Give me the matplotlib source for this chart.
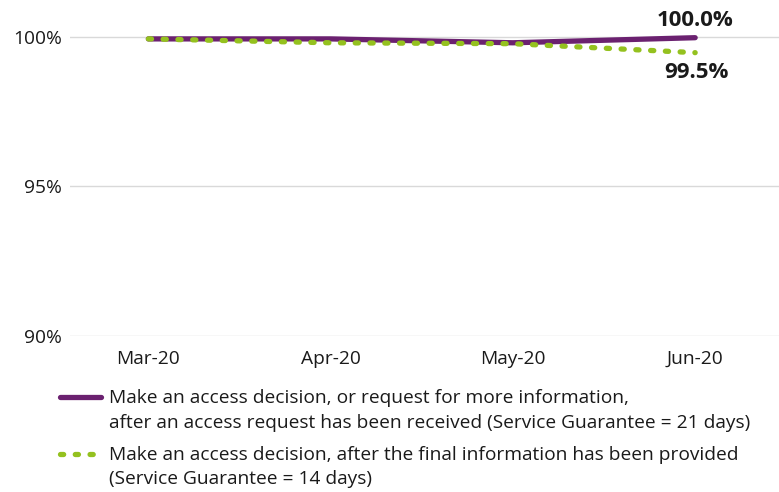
import numpy as np
import matplotlib.pyplot as plt
from matplotlib.legend_handler import HandlerLine2D

plt.rcParams['font.family'] = ['Open Sans', 'DejaVu Sans']

months = ["Mar-20", "Apr-20", "May-20", "Jun-20"]
decision_21 = [99.93, 99.93, 99.8, 99.97]
decision_14 = [99.93, 99.8, 99.77, 99.47]
label_21 = "Make an access decision, or request for more information,\nafter an access request has been received (Service Guarantee = 21 days)"
label_14 = "Make an access decision, after the final information has been provided\n(Service Guarantee = 14 days)"
end_labels = ["100.0%", "99.5%"]

purple = "#6b2170"
green = "#94c11f"


# legend handle sits next to the first line of a two-line label
class TopLine(HandlerLine2D):
    def create_artists(self, legend, orig_handle, xdescent, ydescent, width, height, fontsize, trans):
        shift = 0.7 * fontsize
        return super().create_artists(legend, orig_handle, xdescent, ydescent - 2 * shift,
                                      width, height, fontsize, trans)


fig = plt.figure(figsize=(7.79, 4.92), dpi=100)
ax = fig.add_axes([70/779, 156/492, 709/779, 336/492])

x = np.arange(len(months))
l1, = ax.plot(x, decision_21, color=purple, lw=3.8, solid_capstyle='round', label=label_21, zorder=3)
l2, = ax.plot(x, decision_14, color=green, lw=3.8, linestyle=(0, (0.6, 2.2)), dash_capstyle='round',
              label=label_14, zorder=4)

ax.annotate(end_labels[0], (x[-1], decision_21[-1]), xytext=(0, 5), textcoords='offset points',
            ha='center', va='bottom', fontsize=16, fontweight='bold', color='#1a1a1a')
ax.annotate(end_labels[1], (x[-1], decision_14[-1]), xytext=(1, -7), textcoords='offset points',
            ha='center', va='top', fontsize=16, fontweight='bold', color='#1a1a1a')

ax.set_xlim(-0.43, 3.46)
ax.set_ylim(90, 101.23)
ax.set_xticks(x)
ax.set_xticklabels(months)
ax.set_yticks([90, 95, 100])
ax.set_yticklabels(["90%", "95%", "100%"])
ax.tick_params(axis='both', length=0, labelsize=13.8, colors='#1a1a1a')
ax.tick_params(axis='x', pad=10)
ax.tick_params(axis='y', pad=6)
ax.grid(axis='y', color='#d9d9d9', lw=1)
ax.set_axisbelow(True)
for s in ax.spines.values():
    s.set_visible(False)

leg = fig.legend(loc='upper left', bbox_to_anchor=(43/779, 1 - 372/492), frameon=False, fontsize=13.8,
                 handlelength=2.1, handletextpad=0.42, labelspacing=0.75, labelcolor='#1a1a1a',
                 handler_map={l1: TopLine(), l2: TopLine()})
for t in leg.get_texts():
    t.set_linespacing(1.45)

fig.savefig("out.png", dpi=100)
